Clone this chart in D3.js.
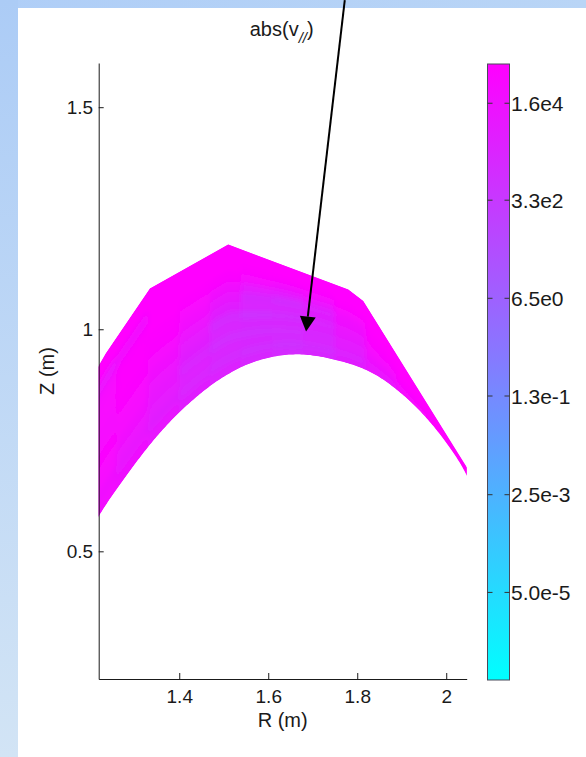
<!DOCTYPE html>
<html>
<head>
<meta charset="utf-8">
<script src="https://cdn.jsdelivr.net/npm/d3@7"></script>
<style>
  html, body { margin: 0; padding: 0; background: #fff; }
  svg { display: block; font-family: "Liberation Sans", Arial, sans-serif; }
</style>
</head>
<body>
<svg id="chart" width="586" height="757"></svg>
<script>
// ---- Boundary of the plotted region (R, Z in metres) ----
const innerR = [1.1993, 1.2173, 1.2706, 1.3521, 1.4240, 1.4989, 1.5739, 1.6638, 1.7611, 1.8360, 1.9110, 1.9746, 2.0308, 2.0578];
const innerZ = [0.5395, 0.5762, 0.6561, 0.7619, 0.8351, 0.8925, 0.9286, 0.9436, 0.9286, 0.9004, 0.8452, 0.7777, 0.6989, 0.6471];
const outerR = [1.19, 1.2106, 1.2353, 1.3342, 1.5101, 1.7798, 1.8135, 2.0533, 2.07];
const outerZ = [0.868, 0.9032, 0.9459, 1.0917, 1.1908, 1.0894, 1.0637, 0.6779, 0.651];

// ---- Field: log10 |v_par| on (flux band, R bin) cells ----
const bandEdges = [-0.2, 0.08, 0.16, 0.24, 0.32, 0.40, 0.48, 0.56, 0.64, 0.72, 0.80, 0.88, 1.2];
const rEdges = [1.19, 1.26, 1.33, 1.40, 1.47, 1.54, 1.61, 1.68, 1.75, 1.82, 1.89, 1.96, 2.07];
const logAbsVpar = [
  [4.4, 4.2, 3.9, 3.6, 3.4, 3.2, 3.1, 3.2, 3.6, 4.0, 4.5, 4.8],
  [4.2, 3.9, 3.6, 3.3, 3.1, 2.9, 2.8, 3.0, 3.4, 3.9, 4.4, 4.7],
  [4.5, 4.1, 3.8, 3.5, 3.3, 3.2, 3.1, 3.3, 3.7, 4.2, 4.6, 4.8],
  [4.6, 4.3, 3.9, 3.3, 3.0, 2.9, 3.0, 3.2, 3.7, 4.3, 4.7, 4.8],
  [4.7, 4.5, 4.1, 3.6, 3.3, 3.2, 3.2, 3.4, 3.9, 4.5, 4.8, 4.9],
  [4.5, 4.6, 4.3, 3.8, 3.1, 2.8, 2.9, 3.3, 4.0, 4.6, 4.8, 4.9],
  [4.5, 4.7, 4.5, 4.1, 3.6, 3.3, 3.3, 3.6, 4.2, 4.7, 4.9, 4.9],
  [4.6, 4.8, 4.7, 4.4, 3.9, 3.2, 3.0, 3.5, 4.3, 4.8, 4.9, 4.9],
  [4.6, 4.8, 4.8, 4.6, 4.3, 3.8, 3.7, 4.0, 4.6, 4.8, 4.9, 4.9],
  [4.5, 4.8, 4.9, 4.8, 4.7, 4.5, 4.3, 4.5, 4.8, 4.9, 4.9, 4.9],
  [3.9, 4.2, 4.9, 4.9, 4.9, 4.8, 4.8, 4.8, 4.9, 4.9, 4.9, 4.9],
  [4.9, 4.9, 4.9, 4.9, 4.9, 4.9, 4.9, 4.9, 4.9, 4.9, 4.9, 4.9]
];

// ---- Axes and colour bar ----
const rDomain = [1.219, 2.046];
const zDomain = [0.2125, 1.5995];
const rTicks = [1.4, 1.6, 1.8, 2];
const zTicks = [0.5, 1, 1.5];
const cbDomain = [1.5e-6, 7.7e4];
const cbTicks = [1.6e4, 3.3e2, 6.5e0, 1.3e-1, 2.5e-3, 5.0e-5];
const cbTickLabels = ["1.6e4", "3.3e2", "6.5e0", "1.3e-1", "2.5e-3", "5.0e-5"];

// ---- Annotation arrow (data coordinates) ----
const arrowTail = [1.772, 1.741];
const arrowTip = [1.685, 0.995];

const W = 586, H = 757;
const plot = { left: 98.7, right: 466.7, top: 63, bottom: 679 };
const cb = { left: 487.5, width: 22, top: 64, bottom: 680 };

const svg = d3.select("#chart");
const defs = svg.append("defs");

// slide background
const gLeft = defs.append("linearGradient").attr("id", "bgLeft")
  .attr("x1", 0).attr("y1", 0).attr("x2", 0).attr("y2", 1);
gLeft.append("stop").attr("offset", 0).attr("stop-color", "#acccf6");
gLeft.append("stop").attr("offset", 1).attr("stop-color", "#d2e4f5");
const gTop = defs.append("linearGradient").attr("id", "bgTop")
  .attr("x1", 0).attr("y1", 0).attr("x2", 1).attr("y2", 0);
gTop.append("stop").attr("offset", 0).attr("stop-color", "#afcef7");
gTop.append("stop").attr("offset", 1).attr("stop-color", "#b9d5f6");

svg.append("rect").attr("width", W).attr("height", H).attr("fill", "url(#bgTop)");
svg.append("rect").attr("x", 0).attr("y", 0).attr("width", 18).attr("height", H).attr("fill", "url(#bgLeft)");
svg.append("rect").attr("x", 18).attr("y", 8).attr("width", W - 18).attr("height", H - 8).attr("fill", "#ffffff");

// scales
const x = d3.scaleLinear().domain(rDomain).range([plot.left, plot.right]);
const y = d3.scaleLinear().domain(zDomain).range([plot.bottom, plot.top]);
const cbScale = d3.scaleLog().domain(cbDomain).range([cb.bottom, cb.top]);
const logDomain = cbDomain.map(Math.log10);
const color = d3.scaleLinear().domain(logDomain).range(["#00ffff", "#ff00ff"]).clamp(true);

// smooth inner boundary: spline through the points, sampled densely
const innerPts = innerR.map((r, i) => [x(r), y(innerZ[i])]);
const innerSpline = svg.append("path").attr("fill", "none")
  .attr("d", d3.line().curve(d3.curveCatmullRom.alpha(0.5))(innerPts)).node();
const splineLen = innerSpline.getTotalLength();
const innerDense = d3.range(0, 241).map(k => {
  const p = innerSpline.getPointAtLength(splineLen * k / 240);
  return [p.x, p.y];
});
innerSpline.remove();
const innerAtPx = d3.scaleLinear().domain(innerDense.map(p => p[0])).range(innerDense.map(p => p[1]));
const outerAtPx = d3.scaleLinear().domain(outerR.map(x)).range(outerZ.map(y));
const surfacePx = (px, s) => { const yi = innerAtPx(px), yo = outerAtPx(px); return yi + s * (yo - yi); };

// clip paths
defs.append("clipPath").attr("id", "axesClip").append("rect")
  .attr("x", plot.left).attr("y", plot.top)
  .attr("width", plot.right - plot.left).attr("height", plot.bottom - plot.top);
const regionPts = outerR.map((r, i) => [x(r), y(outerZ[i])]).concat(innerDense.slice().reverse());
const regionD = "M" + regionPts.map(p => p.map(q => q.toFixed(2)).join(",")).join("L") + "Z";
defs.append("clipPath").attr("id", "regionClip").append("path").attr("d", regionD);
const blur = defs.append("filter").attr("id", "soft")
  .attr("x", "-5%").attr("y", "-5%").attr("width", "110%").attr("height", "110%");
blur.append("feGaussianBlur").attr("stdDeviation", 2.8);

// field cells
const cells = [];
logAbsVpar.forEach((row, b) => row.forEach((v, c) => cells.push({
  s0: bandEdges[b], s1: bandEdges[b + 1], r0: rEdges[c], r1: rEdges[c + 1], v
})));
const cellPath = d => {
  const n = 10, lo = [], hi = [];
  const x0 = x(d.r0), x1 = x(d.r1);
  for (let k = 0; k <= n; k++) {
    const px = x0 + (x1 - x0) * k / n;
    lo.push([px, surfacePx(px, d.s0)]);
    hi.push([px, surfacePx(px, d.s1)]);
  }
  const pts = lo.concat(hi.reverse());
  return "M" + pts.map(p => p.map(q => q.toFixed(2)).join(",")).join("L") + "Z";
};

const field = svg.append("g").attr("clip-path", "url(#axesClip)")
  .append("g").attr("clip-path", "url(#regionClip)");
field.append("path").attr("d", regionD).attr("fill", color(4.9));
field.append("g").attr("filter", "url(#soft)")
  .selectAll("path").data(cells).join("path")
  .attr("d", cellPath)
  .attr("fill", d => color(d.v))
  .attr("stroke", d => color(d.v))
  .attr("stroke-width", 0.8);

// axes
const axisStyle = g => {
  g.selectAll("path.domain").attr("stroke", "#1a1a1a").attr("stroke-width", 1);
  g.selectAll(".tick line").attr("stroke", "#1a1a1a");
  g.selectAll(".tick text").attr("fill", "#1a1a1a").attr("font-size", 19)
    .attr("font-family", "Liberation Sans, Arial, sans-serif");
};
svg.append("g").attr("transform", `translate(${plot.left},0)`)
  .call(d3.axisLeft(y).tickValues(zTicks).tickFormat(d => String(d))
    .tickSizeInner(-5).tickSizeOuter(0).tickPadding(5.5))
  .call(axisStyle);
svg.append("g").attr("transform", `translate(0,${plot.bottom})`)
  .call(d3.axisBottom(x).tickValues(rTicks).tickFormat(d => String(d))
    .tickSizeInner(-6).tickSizeOuter(0).tickPadding(11))
  .call(axisStyle);

// axis titles
svg.append("text").attr("x", (plot.left + plot.right) / 2).attr("y", 727)
  .attr("text-anchor", "middle").attr("font-size", 20).attr("fill", "#1a1a1a").text("R (m)");
svg.append("text").attr("transform", `translate(54,${(plot.top + plot.bottom) / 2}) rotate(-90)`)
  .attr("text-anchor", "middle").attr("font-size", 20).attr("fill", "#1a1a1a").text("Z (m)");

// title
const title = svg.append("text").attr("x", (plot.left + plot.right) / 2 - 1).attr("y", 36)
  .attr("text-anchor", "middle").attr("font-size", 20).attr("fill", "#1a1a1a");
title.append("tspan").text("abs(v");
title.append("tspan").attr("dy", 7).attr("font-size", 15).attr("font-style", "italic").text("//");
title.append("tspan").attr("dy", -7).text(")");

// colour bar
const cbGrad = defs.append("linearGradient").attr("id", "cbGrad")
  .attr("x1", 0).attr("y1", 1).attr("x2", 0).attr("y2", 0);
cbGrad.append("stop").attr("offset", 0).attr("stop-color", color(logDomain[0]));
cbGrad.append("stop").attr("offset", 1).attr("stop-color", color(logDomain[1]));
svg.append("rect").attr("x", cb.left).attr("y", cb.top)
  .attr("width", cb.width).attr("height", cb.bottom - cb.top)
  .attr("fill", "url(#cbGrad)").attr("stroke", "#4a4a5a").attr("stroke-width", 1);
const cbT = svg.append("g").selectAll("g").data(cbTicks).join("g")
  .attr("transform", d => `translate(0,${cbScale(d)})`);
cbT.append("line").attr("x1", cb.left).attr("x2", cb.left + 5).attr("stroke", "#333");
cbT.append("line").attr("x1", cb.left + cb.width - 5).attr("x2", cb.left + cb.width).attr("stroke", "#333");
cbT.append("text").attr("x", cb.left + cb.width + 1.5).attr("dy", "0.36em")
  .attr("font-size", 21).attr("fill", "#1a1a1a")
  .text((d, i) => cbTickLabels[i]);

// annotation arrow
const tx = x(arrowTail[0]), ty = y(arrowTail[1]);
const hx = x(arrowTip[0]), hy = y(arrowTip[1]);
const len = Math.hypot(hx - tx, hy - ty);
const ux = (hx - tx) / len, uy = (hy - ty) / len;
const headLen = 15, headHalf = 8;
const bx = hx - ux * headLen, by = hy - uy * headLen;
svg.append("line").attr("x1", tx).attr("y1", ty).attr("x2", bx).attr("y2", by)
  .attr("stroke", "#000").attr("stroke-width", 2);
svg.append("path")
  .attr("d", `M${hx},${hy}L${bx - uy * headHalf},${by + ux * headHalf}L${bx + uy * headHalf},${by - ux * headHalf}Z`)
  .attr("fill", "#000");
</script>
</body>
</html>
